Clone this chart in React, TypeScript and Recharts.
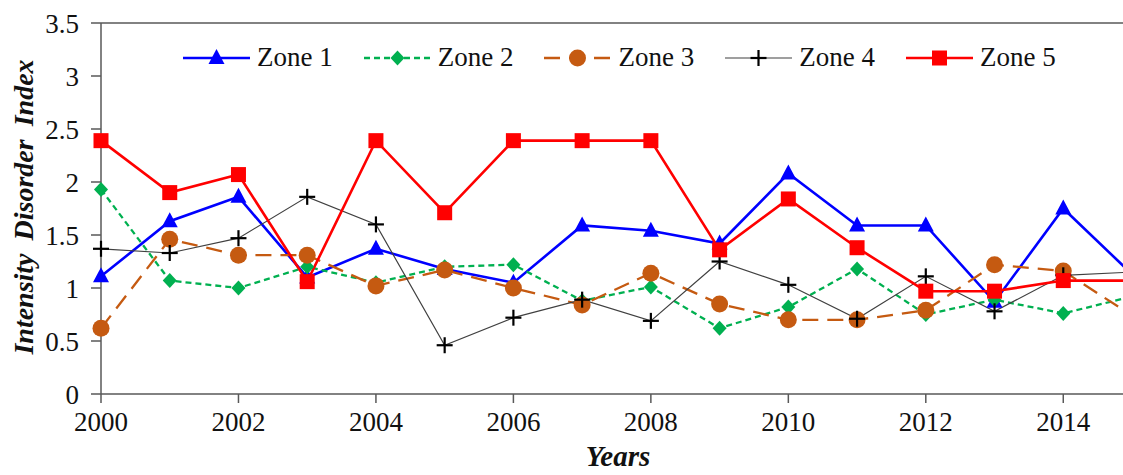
import { LineChart, Line, XAxis, YAxis, ReferenceLine, Label } from 'recharts';

const years = [2000, 2001, 2002, 2003, 2004, 2005, 2006, 2007, 2008, 2009, 2010, 2011, 2012, 2013, 2014, 2015];
const zone1 = [1.11, 1.63, 1.86, 1.1, 1.37, 1.18, 1.05, 1.59, 1.54, 1.42, 2.08, 1.59, 1.59, 0.87, 1.75, 1.13];
const zone2 = [1.93, 1.07, 1.0, 1.2, 1.05, 1.2, 1.22, 0.88, 1.01, 0.62, 0.82, 1.18, 0.75, 0.89, 0.76, 0.92];
const zone3 = [0.62, 1.46, 1.31, 1.31, 1.02, 1.17, 1.0, 0.84, 1.14, 0.85, 0.7, 0.7, 0.79, 1.22, 1.16, 0.74];
const zone4 = [1.37, 1.33, 1.47, 1.86, 1.6, 0.46, 0.72, 0.89, 0.69, 1.25, 1.03, 0.71, 1.11, 0.78, 1.12, 1.15];
const zone5 = [2.39, 1.9, 2.07, 1.06, 2.39, 1.71, 2.39, 2.39, 2.39, 1.36, 1.84, 1.38, 0.97, 0.97, 1.07, 1.07];

const xTicks = [2000, 2002, 2004, 2006, 2008, 2010, 2012, 2014];
const yTicks = [0, 0.5, 1, 1.5, 2, 2.5, 3, 3.5];

const data = years.map((year, i) => ({
  year,
  z1: zone1[i],
  z2: zone2[i],
  z3: zone3[i],
  z4: zone4[i],
  z5: zone5[i],
}));

const FONT = 'Liberation Serif, DejaVu Serif, serif';
const AXIS = '#595959';

// marker shapes, drawn around the point recharts hands us
const marker = (shape: string, color: string, cx: number, cy: number, key?: any) => {
  if (shape === 'triangle')
    return <polygon key={key} points={`${cx},${cy - 9} ${cx - 8},${cy + 6} ${cx + 8},${cy + 6}`} fill={color} />;
  if (shape === 'diamond')
    return <polygon key={key} points={`${cx},${cy - 7.5} ${cx + 7},${cy} ${cx},${cy + 7.5} ${cx - 7},${cy}`} fill={color} />;
  if (shape === 'circle') return <circle key={key} cx={cx} cy={cy} r={8.5} fill={color} />;
  if (shape === 'plus')
    return (
      <g key={key} stroke="#000" strokeWidth={2.2}>
        <line x1={cx - 8} y1={cy} x2={cx + 8} y2={cy} />
        <line x1={cx} y1={cy - 8} x2={cx} y2={cy + 8} />
      </g>
    );
  return <rect key={key} x={cx - 7.5} y={cy - 7.5} width={15} height={15} fill={color} />;
};

const series = [
  { key: 'z1', name: 'Zone 1', color: '#0000FF', width: 2.6, dash: undefined, shape: 'triangle' },
  { key: 'z2', name: 'Zone 2', color: '#00B050', width: 2.3, dash: '6 4', shape: 'diamond' },
  { key: 'z3', name: 'Zone 3', color: '#C55A11', width: 2.3, dash: '16 9', shape: 'circle' },
  { key: 'z4', name: 'Zone 4', color: '#404040', width: 1.2, dash: undefined, shape: 'plus' },
  { key: 'z5', name: 'Zone 5', color: '#FF0000', width: 2.6, dash: undefined, shape: 'square' },
];

const LegendBox = () => (
  <div
    style={{
      position: 'absolute',
      left: 183,
      top: 42,
      display: 'flex',
      alignItems: 'center',
      fontFamily: FONT,
      fontSize: 27,
      color: '#111',
    }}
  >
    {series.map((s) => (
      <div key={s.key} style={{ display: 'flex', alignItems: 'center', marginRight: 31 }}>
        <svg width={67} height={26}>
          <line x1={0} y1={13} x2={67} y2={13} stroke={s.color} strokeWidth={s.width} strokeDasharray={s.dash} />
          {marker(s.shape, s.color, 33.5, 13)}
        </svg>
        <span style={{ marginLeft: 7 }}>{s.name}</span>
      </div>
    ))}
  </div>
);

export default function App() {
  return (
    <div style={{ position: 'fixed', left: 0, top: 0, width: 1123, height: 475, overflow: 'hidden', background: '#fff' }}>
      <LineChart width={1160} height={475} data={data} margin={{ top: 23, right: 28, left: 40, bottom: 31 }}>
        <XAxis
          dataKey="year"
          type="number"
          domain={[2000, 2015]}
          ticks={xTicks}
          stroke={AXIS}
          strokeWidth={1.5}
          tickSize={9}
          tickMargin={9}
          height={50}
          tick={{ fill: '#111', fontSize: 27, fontFamily: FONT }}
        >
          <Label
            content={() => (
              <text x={618} y={466} textAnchor="middle" fontFamily={FONT} fontSize={29} fontWeight="bold" fontStyle="italic" fill="#111">
                Years
              </text>
            )}
          />
        </XAxis>
        <YAxis
          type="number"
          domain={[0, 3.5]}
          ticks={yTicks}
          stroke={AXIS}
          strokeWidth={1.5}
          tickSize={10}
          tickMargin={12}
          width={61}
          tick={{ fill: '#111', fontSize: 27, fontFamily: FONT }}
        >
          <Label
            content={() => (
              <text
                x={33}
                y={207}
                transform="rotate(-90 33 207)"
                textAnchor="middle"
                fontFamily={FONT}
                fontSize={28}
                fontWeight="bold"
                fontStyle="italic"
                wordSpacing={6}
                fill="#111"
              >
                Intensity Disorder Index
              </text>
            )}
          />
        </YAxis>
        <ReferenceLine y={3.5} stroke={AXIS} strokeWidth={1.5} />
        {series.map((s) => (
          <Line
            key={s.key}
            dataKey={s.key}
            name={s.name}
            stroke={s.color}
            strokeWidth={s.width}
            strokeDasharray={s.dash}
            isAnimationActive={false}
            dot={(p: any) => marker(s.shape, s.color, p.cx, p.cy, p.index)}
            activeDot={false}
          />
        ))}
      </LineChart>
      <LegendBox />
    </div>
  );
}
